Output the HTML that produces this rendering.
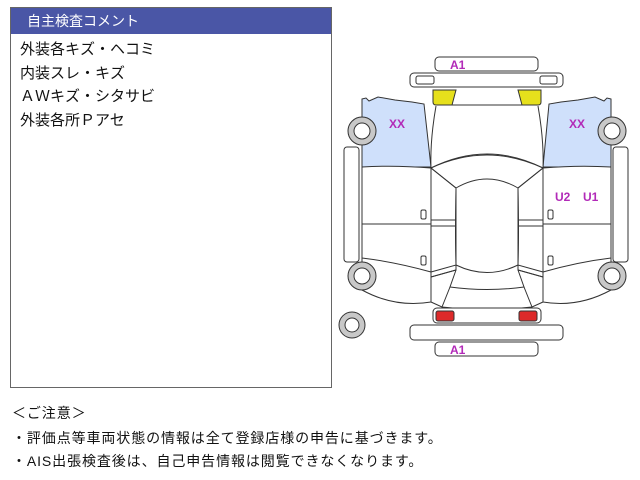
<!DOCTYPE html>
<html><head><meta charset="utf-8"><style>
body{margin:0;width:640px;height:480px;background:#fff;position:relative;overflow:hidden;font-family:"Liberation Sans","Noto Sans CJK JP",sans-serif;}
.box{position:absolute;left:10px;top:7px;width:320px;height:379px;border:1px solid #666;}
.hd{background:#4a56a6;color:#fff;height:26px;line-height:26px;font-size:14px;padding-left:16px;}
.ln{font-size:15px;color:#111;padding-left:9px;height:23.5px;line-height:23.5px;}
.note{position:absolute;left:12px;font-size:14px;color:#111;letter-spacing:0.9px;white-space:nowrap;}
svg{position:absolute;left:0;top:0}
</style></head><body>
<div class="box"><div class="hd">自主検査コメント</div>
<div style="height:4px"></div>
<div class="ln">外装各キズ・ヘコミ</div>
<div class="ln">内装スレ・キズ</div>
<div class="ln">ＡＷキズ・シタサビ</div>
<div class="ln">外装各所Ｐアセ</div>
</div>
<div class="note" style="top:403px">＜ご注意＞</div>
<div class="note" style="top:428px">・評価点等車両状態の情報は全て登録店様の申告に基づきます。</div>
<div class="note" style="top:451px">・AIS出張検査後は、自己申告情報は閲覧できなくなります。</div>
<svg width="640" height="480" viewBox="0 0 640 480" fill="none" stroke="#333" stroke-width="1">
<rect x="435" y="57" width="103" height="14" rx="4" fill="#fff"/>
<rect x="410" y="73" width="153" height="14" rx="4" fill="#fff"/>
<rect x="416" y="76" width="18" height="8" rx="2"/>
<rect x="540" y="76" width="17" height="8" rx="2"/>
<path d="M433 90 H456 L452 105 H436 Q433 105 433 102Z" fill="#e6e01c"/>
<path d="M518 90 H541 V102 Q541 105 538 105 H522Z" fill="#e6e01c"/>
<line x1="452" y1="105" x2="522" y2="105"/>
<path d="M362 99 L366 98 L369 101 L378 97 L395 100 L412 102 L424 104 L431 167 L362 167Z" fill="#cfe0fb"/>
<path d="M611 99 L607 98 L604 101 L595 97 L578 100 L561 102 L549 104 L543 167 L611 167Z" fill="#cfe0fb"/>
<path d="M362 167 Q395 165 431 168 V272 Q395 262 362 258Z" fill="#fff"/>
<path d="M611 167 Q578 165 543 168 V272 Q578 262 611 258Z" fill="#fff"/>
<line x1="362" y1="224" x2="431" y2="224"/><line x1="543" y1="224" x2="611" y2="224"/>
<path d="M362 258 V290 Q395 308 431 302 V272"/>
<path d="M611 258 V290 Q578 308 543 302 V272"/>
<rect x="421" y="210" width="5" height="9" rx="1.5"/><rect x="421" y="256" width="5" height="9" rx="1.5"/>
<rect x="548" y="210" width="5" height="9" rx="1.5"/><rect x="548" y="256" width="5" height="9" rx="1.5"/>
<rect x="344" y="147" width="15" height="115" rx="3" fill="#fff"/>
<rect x="613" y="147" width="15" height="115" rx="3" fill="#fff"/>
<path d="M436 106 Q430 140 431 168 Q487 140 543 168 Q544 140 538 106" fill="#fff"/>
<path d="M431 168 L456 188 Q487 170 518 188 L543 168 Q487 142 431 168Z" fill="#fff"/>
<path d="M431 168 L456 188 V270 L431 277Z"/>
<path d="M543 168 L518 188 V270 L543 277Z"/>
<path d="M456 188 Q455 235 456 265 Q487 280 518 265 Q519 235 518 188"/>
<line x1="431" y1="220" x2="456" y2="220"/><line x1="431" y1="226" x2="456" y2="226"/>
<line x1="518" y1="220" x2="543" y2="220"/><line x1="518" y1="226" x2="543" y2="226"/>
<path d="M431 272 L456 265 L456 270 L431 277"/>
<path d="M543 272 L518 265 L518 270 L543 277"/>
<path d="M431 277 V302 L442 307 Q487 312 532 307 L543 302 V277"/>
<path d="M456 270 L450 287 Q487 292 524 287 L518 270"/>
<path d="M450 287 L442 307 M524 287 L532 307"/>
<rect x="433" y="308" width="108" height="15" rx="4" fill="#fff"/>
<rect x="436" y="311" width="18" height="10" rx="2" fill="#dd2a2a"/>
<rect x="519" y="311" width="18" height="10" rx="2" fill="#dd2a2a"/>
<rect x="410" y="325" width="153" height="15" rx="4" fill="#fff"/>
<rect x="435" y="342" width="103" height="14" rx="4" fill="#fff"/>
<g fill="#c8c8c8" stroke="#333"><circle cx="362" cy="131" r="14"/><circle cx="612" cy="131" r="14"/><circle cx="362" cy="276" r="14"/><circle cx="612" cy="276" r="14"/><circle cx="352" cy="325" r="13"/></g>
<g fill="#fff" stroke="#333"><circle cx="362" cy="131" r="8"/><circle cx="612" cy="131" r="8"/><circle cx="362" cy="276" r="8"/><circle cx="612" cy="276" r="8"/><circle cx="352" cy="325" r="7"/></g>
<g fill="#b22ab8" stroke="none" font-family="Liberation Sans,sans-serif" font-weight="bold" font-size="12">
<text x="450" y="69">A1</text><text x="450" y="354">A1</text>
<text x="389" y="128">XX</text><text x="569" y="128">XX</text>
<text x="555" y="201">U2</text><text x="583" y="201">U1</text></g>
</svg>
</body></html>
